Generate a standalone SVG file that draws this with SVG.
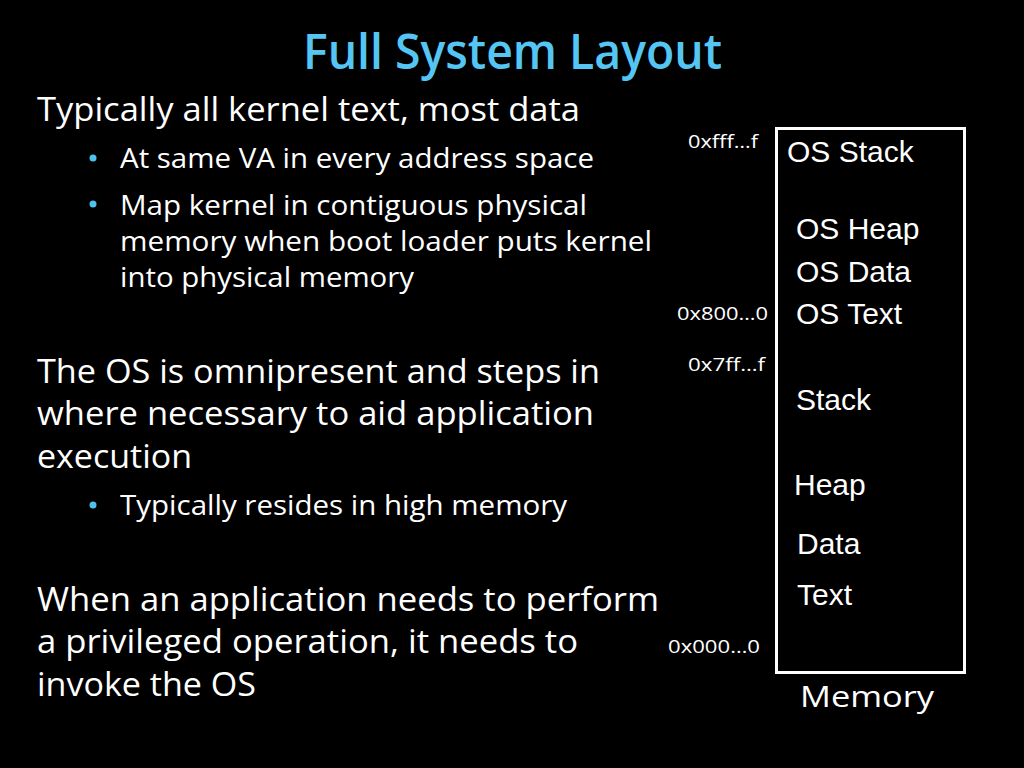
<svg xmlns="http://www.w3.org/2000/svg" width="1024" height="768" viewBox="0 0 1024 768">
<style>
.title{font-family:"Open Sans","Liberation Sans",sans-serif;font-size:48px;font-weight:600;fill:#55C6F4}
.body{font-family:"Open Sans","Liberation Sans",sans-serif;font-size:33px;fill:#FFFFFF}
.sub{font-family:"Open Sans","Liberation Sans",sans-serif;font-size:28px;fill:#FFFFFF}
.addr{font-family:"Open Sans","Liberation Sans",sans-serif;font-size:19px;fill:#FFFFFF}
.seg{font-family:"Liberation Sans",Arial,sans-serif;font-size:30px;fill:#FFFFFF}
.mem{font-family:"Open Sans","Liberation Sans",sans-serif;font-size:30px;fill:#FFFFFF}
.bul{fill:#4FC1EE}
</style>
<rect x="0" y="0" width="1024" height="768" fill="#000000"/>
<g id="title">
<text class="title" x="303" y="69" textLength="419" lengthAdjust="spacingAndGlyphs">Full System Layout</text>
</g>
<g id="text-left">
<text class="body" x="37" y="121" textLength="543" lengthAdjust="spacingAndGlyphs">Typically all kernel text, most data</text>
<circle class="bul" cx="93" cy="158" r="3.5"/>
<text class="sub" x="120" y="168" textLength="474" lengthAdjust="spacingAndGlyphs">At same VA in every address space</text>
<circle class="bul" cx="93" cy="204" r="3.5"/>
<text class="sub" x="120" y="215" textLength="467" lengthAdjust="spacingAndGlyphs">Map kernel in contiguous physical</text>
<text class="sub" x="120" y="251" textLength="532" lengthAdjust="spacingAndGlyphs">memory when boot loader puts kernel</text>
<text class="sub" x="120" y="287" textLength="294" lengthAdjust="spacingAndGlyphs">into physical memory</text>
<text class="body" x="37" y="383" textLength="563" lengthAdjust="spacingAndGlyphs">The OS is omnipresent and steps in</text>
<text class="body" x="37" y="425" textLength="557" lengthAdjust="spacingAndGlyphs">where necessary to aid application</text>
<text class="body" x="37" y="468" textLength="155" lengthAdjust="spacingAndGlyphs">execution</text>
<circle class="bul" cx="93" cy="505" r="3.5"/>
<text class="sub" x="120" y="515" textLength="447" lengthAdjust="spacingAndGlyphs">Typically resides in high memory</text>
<text class="body" x="37" y="611" textLength="622" lengthAdjust="spacingAndGlyphs">When an application needs to perform</text>
<text class="body" x="37" y="653" textLength="541" lengthAdjust="spacingAndGlyphs">a privileged operation, it needs to</text>
<text class="body" x="37" y="696" textLength="219" lengthAdjust="spacingAndGlyphs">invoke the OS</text>
</g>
<g id="memory">
<rect x="776.5" y="128.5" width="188" height="544" fill="none" stroke="#FFFFFF" stroke-width="3"/>
<text class="seg" x="787" y="162">OS Stack</text>
<text class="seg" x="796" y="239">OS Heap</text>
<text class="seg" x="796" y="282">OS Data</text>
<text class="seg" x="796" y="324">OS Text</text>
<text class="seg" x="796" y="410">Stack</text>
<text class="seg" x="794" y="495">Heap</text>
<text class="seg" x="797" y="554">Data</text>
<text class="seg" x="797" y="605">Text</text>
<text class="mem" x="800" y="707" textLength="134" lengthAdjust="spacingAndGlyphs">Memory</text>
</g>
<g id="addresses">
<text class="addr" x="688" y="148" textLength="70" lengthAdjust="spacingAndGlyphs">0xfff…f</text>
<text class="addr" x="677" y="320" textLength="91" lengthAdjust="spacingAndGlyphs">0x800…0</text>
<text class="addr" x="688" y="371" textLength="77" lengthAdjust="spacingAndGlyphs">0x7ff…f</text>
<text class="addr" x="668" y="653" textLength="92" lengthAdjust="spacingAndGlyphs">0x000…0</text>
</g>
<g id="connectors"></g>
</svg>
